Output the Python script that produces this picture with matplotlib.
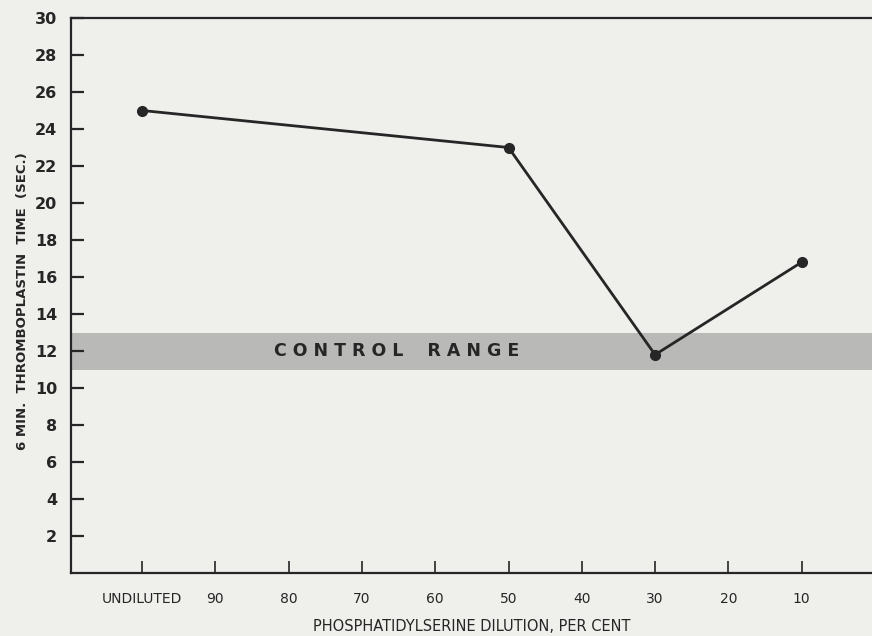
import matplotlib
matplotlib.use("Agg")
from matplotlib import pyplot as plt

# x categories as printed under the axis
categories = ['UNDILUTED', '90', '80', '70', '60', '50', '40', '30', '20', '10']
# measured points: dilution label -> clotting time (sec.)
measured_dilutions = ['UNDILUTED', '50', '30', '10']
measured_times = [25.0, 23.0, 11.8, 16.8]
# control range band (sec.)
control_low = 11.0
control_high = 13.0
y_ticks = list(range(2, 31, 2))

paper = '#efefec'
ink = '#262626'

fig = plt.figure(figsize=(8.72, 6.36), dpi=100, facecolor=paper)
ax = fig.add_axes([71 / 872, 63 / 636, 1 - 71 / 872, 555 / 636])
ax.set_facecolor(paper)

# the shaded control range runs across the whole plot
ax.axhspan(control_low, control_high, color='#b9b9b7', lw=0, zorder=1)
ax.text(1.8, (control_low + control_high) / 2, 'C O N T R O L    R A N G E',
        fontsize=12.5, fontweight='bold', color=ink, va='center', ha='left', zorder=2)

x_pos = [categories.index(d) for d in measured_dilutions]
ax.plot(x_pos, measured_times, color=ink, lw=2.0, marker='o', ms=7,
        markerfacecolor=ink, markeredgecolor=ink, zorder=3)

ax.set_xlim(-0.97, 9.96)
ax.set_ylim(0, 30)
ax.set_xticks(range(len(categories)))
ax.set_xticklabels(categories)
ax.set_yticks(y_ticks)
ax.set_yticklabels([str(t) for t in y_ticks])

ax.tick_params(axis='y', direction='in', length=9, width=1.6, pad=10,
               labelsize=11.5, colors=ink)
ax.tick_params(axis='x', direction='in', length=9, width=1.2, pad=14,
               labelsize=10, colors=ink)
for lab in ax.get_yticklabels():
    lab.set_fontweight('bold')

for side in ['left', 'bottom', 'top']:
    ax.spines[side].set_linewidth(1.6)
    ax.spines[side].set_color(ink)
ax.spines['right'].set_visible(False)

ax.set_xlabel('PHOSPHATIDYLSERINE DILUTION, PER CENT', fontsize=10.5, color=ink, labelpad=9)
ax.set_ylabel('6 MIN.  THROMBOPLASTIN  TIME  (SEC.)', fontsize=9.5, color=ink,
              fontweight='bold')
ax.yaxis.set_label_coords(-0.052, 0.49)

fig.savefig('out.png', dpi=100, facecolor=paper)
